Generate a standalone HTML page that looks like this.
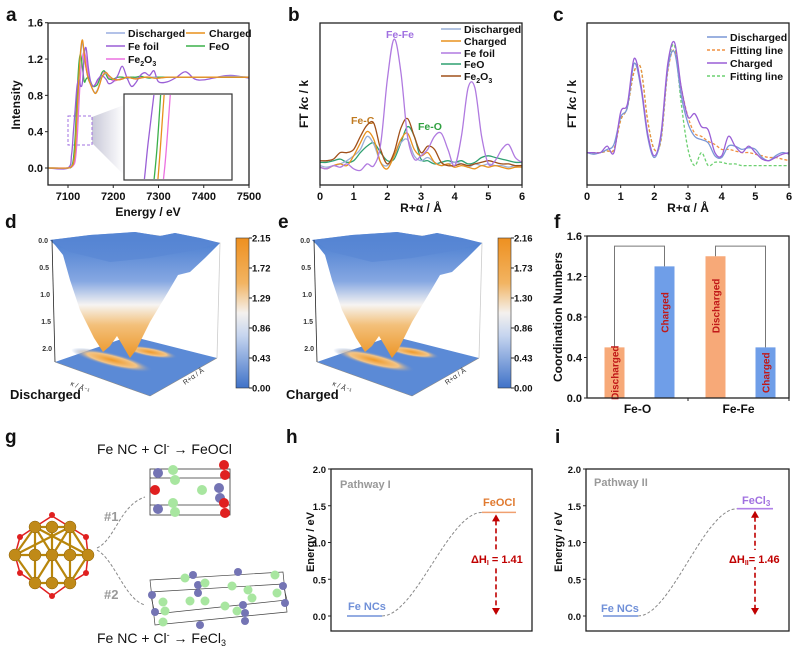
<!DOCTYPE html>
<html><head><meta charset="utf-8"><style>
html,body{margin:0;padding:0;background:#fff}
svg{display:block;font-family:"Liberation Sans",Arial,sans-serif}
</style></head><body>
<svg id="fig" width="803" height="661" viewBox="0 0 803 661" xmlns="http://www.w3.org/2000/svg">
<defs>
<linearGradient id="surfGrad" gradientUnits="userSpaceOnUse" x1="0" y1="240" x2="0" y2="358">
<stop offset="0" stop-color="#4c7fd1"/><stop offset="0.35" stop-color="#86a8e2"/><stop offset="0.55" stop-color="#f6f4f2"/><stop offset="0.72" stop-color="#f3c07a"/><stop offset="1" stop-color="#ec9526"/>
</linearGradient>
<linearGradient id="cbGrad" x1="0" y1="0" x2="0" y2="1">
<stop offset="0" stop-color="#ee9020"/><stop offset="0.3" stop-color="#f2b462"/><stop offset="0.5" stop-color="#f4f1ee"/><stop offset="0.65" stop-color="#c6d5ef"/><stop offset="1" stop-color="#3f72c8"/>
</linearGradient>
<radialGradient id="streak"><stop offset="0" stop-color="#ef9a2a"/><stop offset="0.6" stop-color="#f3c486"/><stop offset="1" stop-color="#5b8ad6" stop-opacity="0"/></radialGradient>
<linearGradient id="fan" x1="0" y1="0" x2="1" y2="0"><stop offset="0" stop-color="#c8c8d8"/><stop offset="1" stop-color="#fff"/></linearGradient>
<g id="surf">
<polygon points="55,362 130,336 217,358 150,396" fill="#5b8ad6"/>
<ellipse cx="112" cy="360" rx="42" ry="7" transform="rotate(14 112 360)" fill="url(#streak)"/>
<ellipse cx="150" cy="352" rx="28" ry="5" transform="rotate(10 150 352)" fill="url(#streak)"/>
<line x1="150" y1="396" x2="217" y2="358" stroke="#888" stroke-width="0.6"/>
<line x1="55" y1="362" x2="150" y2="396" stroke="#888" stroke-width="0.6"/>
<polyline points="52,240 135,233 220,243 217,358" fill="none" stroke="#ccc" stroke-width="0.8"/>
<polygon points="50,240 90,235 135,232 160,236 175,233 200,238 220,243 205,258 190,272 178,275 168,292 150,322 136,350 130,358 123,346 117,336 110,346 103,352 94,338 80,310 70,280 63,255 55,245" fill="url(#surfGrad)"/>
<polygon points="50,240 90,235 135,232 160,236 175,233 200,238 220,243 195,250 150,258 110,262 70,252" fill="#5a88d4" opacity="0.7"/>
<line x1="52" y1="240" x2="55" y2="362" stroke="#222" stroke-width="0.8"/>
<g font-size="7" fill="#333" font-weight="bold" text-anchor="end">
<text x="48" y="243">0.0</text><text x="49" y="270">0.5</text><text x="50" y="297">1.0</text><text x="51" y="324">1.5</text><text x="52" y="351">2.0</text>
</g>
<text x="70" y="385" font-size="7" fill="#333" transform="rotate(25 70 385)">κ / Å⁻¹</text>
<text x="185" y="385" font-size="7" fill="#333" transform="rotate(-35 185 385)">R+α / Å</text>
</g>
</defs>

<!-- panel letters -->
<g font-size="19" font-weight="bold" fill="#111">
<text x="6" y="21">a</text>
<text x="288" y="21">b</text>
<text x="553" y="21">c</text>
<text x="5" y="228">d</text>
<text x="278" y="228">e</text>
<text x="554" y="228">f</text>
<text x="5" y="443">g</text>
<text x="286" y="443">h</text>
<text x="555" y="443">i</text>
</g>

<!-- axis titles -->
<g font-size="12" font-weight="bold" fill="#111" text-anchor="middle">
<text x="20" y="105" transform="rotate(-90 20 105)">Intensity</text>
<text x="148" y="216">Energy / eV</text>
<text x="308" y="104" transform="rotate(-90 308 104)">FT <tspan font-style="italic">k</tspan>c / k</text>
<text x="421" y="212">R+α / Å</text>
<text x="576" y="104" transform="rotate(-90 576 104)">FT <tspan font-style="italic">k</tspan>c / k</text>
<text x="688" y="212">R+α / Å</text>
<text x="562" y="317" transform="rotate(-90 562 317)">Coordination Numbers</text>
<text x="314" y="542" font-size="11" transform="rotate(-90 314 542)">Energy / eV</text>
<text x="562" y="542" font-size="11" transform="rotate(-90 562 542)">Energy / eV</text>
</g>

<!-- panel a static -->
<polygon points="92,117 92,143 124,175 124,105" fill="url(#fan)"/>
<rect x="124" y="94" width="108" height="86" fill="#fff" stroke="#333" stroke-width="1.2"/>
<rect x="68" y="116" width="24" height="29" fill="none" stroke="#a070e0" stroke-width="1" stroke-dasharray="3,2"/>

<!-- legends -->
<g font-size="10.5" font-weight="bold" fill="#111">
<g>
<line x1="106" y1="33" x2="125" y2="33" stroke="#9aaee0" stroke-width="1.6"/><text x="128" y="37">Discharged</text>
<line x1="186" y1="33" x2="205" y2="33" stroke="#e8901c" stroke-width="1.6"/><text x="209" y="37">Charged</text>
<line x1="106" y1="46" x2="125" y2="46" stroke="#9a5fd6" stroke-width="1.6"/><text x="128" y="50">Fe foil</text>
<line x1="186" y1="46" x2="205" y2="46" stroke="#3bb04a" stroke-width="1.6"/><text x="209" y="50">FeO</text>
<line x1="106" y1="59" x2="125" y2="59" stroke="#ec70e0" stroke-width="1.6"/><text x="128" y="63">Fe<tspan font-size="7" dy="3">2</tspan><tspan dy="-3">O</tspan><tspan font-size="7" dy="3">3</tspan></text>
</g>
<g>
<line x1="441" y1="29" x2="461" y2="29" stroke="#9ab0d8" stroke-width="1.5"/><text x="464" y="33">Discharged</text>
<line x1="441" y1="41" x2="461" y2="41" stroke="#e8921e" stroke-width="1.5"/><text x="464" y="45">Charged</text>
<line x1="441" y1="53" x2="461" y2="53" stroke="#b07ae0" stroke-width="1.5"/><text x="464" y="57">Fe foil</text>
<line x1="441" y1="64" x2="461" y2="64" stroke="#2fa070" stroke-width="1.5"/><text x="464" y="68">FeO</text>
<line x1="441" y1="76" x2="461" y2="76" stroke="#a0501a" stroke-width="1.5"/><text x="464" y="80">Fe<tspan font-size="7" dy="3">2</tspan><tspan dy="-3">O</tspan><tspan font-size="7" dy="3">3</tspan></text>
</g>
<g>
<line x1="707" y1="37" x2="727" y2="37" stroke="#7a97d6" stroke-width="1.6"/><text x="730" y="41">Discharged</text>
<line x1="707" y1="50" x2="727" y2="50" stroke="#f09040" stroke-width="1.4" stroke-dasharray="3,2"/><text x="730" y="54">Fitting line</text>
<line x1="707" y1="63" x2="727" y2="63" stroke="#9a5fd6" stroke-width="1.6"/><text x="730" y="67">Charged</text>
<line x1="707" y1="76" x2="727" y2="76" stroke="#6cd070" stroke-width="1.4" stroke-dasharray="3,2"/><text x="730" y="80">Fitting line</text>
</g>
</g>
<g font-size="10.5" font-weight="bold">
<text x="386" y="38" fill="#a070e0">Fe-Fe</text>
<text x="351" y="124" fill="#c07a20">Fe-C</text>
<text x="418" y="130" fill="#30a040">Fe-O</text>
</g>

<!-- panels d, e -->
<use href="#surf" x="0" y="0"/>
<use href="#surf" x="262" y="0"/>
<rect x="236" y="238" width="13" height="150" fill="url(#cbGrad)" stroke="#333" stroke-width="0.6"/>
<rect x="498" y="238" width="13" height="150" fill="url(#cbGrad)" stroke="#333" stroke-width="0.6"/>
<text x="10" y="399" font-size="13" font-weight="bold" fill="#111">Discharged</text>
<text x="286" y="399" font-size="13" font-weight="bold" fill="#111">Charged</text>

<!-- panel g -->
<g>
<g stroke="#e02020" stroke-width="1.5" fill="none">
<polyline points="52,516 35,527 20,537 15,555 20,573 35,583 52,596 70,583 86,573 88,555 86,537 70,527 52,516"/>
</g>
<g stroke="#b8860b" stroke-width="2.2">
<line x1="35" y1="527" x2="70" y2="583"/><line x1="70" y1="527" x2="35" y2="583"/><line x1="15" y1="555" x2="88" y2="555"/>
<line x1="52" y1="527" x2="52" y2="583"/><line x1="35" y1="527" x2="35" y2="583"/><line x1="70" y1="527" x2="70" y2="583"/>
<line x1="35" y1="527" x2="70" y2="527"/><line x1="35" y1="583" x2="70" y2="583"/><line x1="15" y1="555" x2="35" y2="527"/><line x1="15" y1="555" x2="35" y2="583"/><line x1="88" y1="555" x2="70" y2="527"/><line x1="88" y1="555" x2="70" y2="583"/>
<line x1="35" y1="527" x2="88" y2="555"/><line x1="70" y1="527" x2="15" y2="555"/>
</g>
<g fill="#c08a18" stroke="#8a6008" stroke-width="0.5">
<circle cx="35" cy="527" r="6"/><circle cx="52" cy="527" r="6"/><circle cx="70" cy="527" r="6"/>
<circle cx="15" cy="555" r="6"/><circle cx="35" cy="555" r="6"/><circle cx="52" cy="555" r="6"/><circle cx="70" cy="555" r="6"/><circle cx="88" cy="555" r="6"/>
<circle cx="35" cy="583" r="6"/><circle cx="52" cy="583" r="6"/><circle cx="70" cy="583" r="6"/>
</g>
<g fill="#e02020"><circle cx="52" cy="515" r="3"/><circle cx="20" cy="537" r="3"/><circle cx="86" cy="537" r="3"/><circle cx="20" cy="573" r="3"/><circle cx="86" cy="573" r="3"/><circle cx="52" cy="596" r="3"/></g>
</g>
<path d="M97,548 C115,540 120,505 145,497" fill="none" stroke="#888" stroke-width="1" stroke-dasharray="3,2"/>
<path d="M97,550 C115,560 125,600 145,605" fill="none" stroke="#888" stroke-width="1" stroke-dasharray="3,2"/>
<text x="104" y="521" font-size="13" font-weight="bold" fill="#999">#1</text>
<text x="104" y="599" font-size="13" font-weight="bold" fill="#999">#2</text>
<text x="97" y="454" font-size="14" fill="#111">Fe NC + Cl<tspan font-size="9" dy="-5">-</tspan><tspan dy="5"> → FeOCl</tspan></text>
<text x="97" y="643" font-size="14" fill="#111">Fe NC + Cl<tspan font-size="9" dy="-5">-</tspan><tspan dy="5">  → FeCl</tspan><tspan font-size="9" dy="3">3</tspan></text>
<g>
<g fill="none" stroke="#333" stroke-width="0.8"><rect x="150" y="469" width="80" height="46"/><line x1="150" y1="478" x2="230" y2="478"/><line x1="150" y1="505" x2="230" y2="505"/></g>
<g fill="#7474b4"><circle cx="158" cy="473" r="5"/><circle cx="158" cy="509" r="5"/><circle cx="219" cy="488" r="5"/><circle cx="220" cy="498" r="5"/></g>
<g fill="#a8e6a0"><circle cx="173" cy="470" r="5"/><circle cx="175" cy="480" r="5"/><circle cx="173" cy="503" r="5"/><circle cx="175" cy="512" r="5"/><circle cx="202" cy="490" r="5"/></g>
<g fill="#e02020"><circle cx="224" cy="465" r="5"/><circle cx="225" cy="475" r="5"/><circle cx="155" cy="490" r="5"/><circle cx="224" cy="503" r="5"/><circle cx="225" cy="513" r="5"/></g>
</g>
<g>
<g fill="none" stroke="#444" stroke-width="0.7"><polygon points="150,580 283,572 287,612 155,625"/><polygon points="150,592 283,584 287,600 155,614"/></g>
<g fill="#7474b4"><circle cx="152" cy="595" r="4"/><circle cx="155" cy="612" r="4"/><circle cx="193" cy="575" r="4"/><circle cx="198" cy="585" r="4"/><circle cx="198" cy="593" r="4"/><circle cx="200" cy="625" r="4"/><circle cx="238" cy="572" r="4"/><circle cx="243" cy="605" r="4"/><circle cx="245" cy="613" r="4"/><circle cx="245" cy="621" r="4"/><circle cx="283" cy="586" r="4"/><circle cx="285" cy="603" r="4"/></g>
<g fill="#a8e6a0"><circle cx="163" cy="602" r="4.5"/><circle cx="165" cy="611" r="4.5"/><circle cx="185" cy="578" r="4.5"/><circle cx="190" cy="601" r="4.5"/><circle cx="205" cy="583" r="4.5"/><circle cx="205" cy="601" r="4.5"/><circle cx="225" cy="606" r="4.5"/><circle cx="232" cy="586" r="4.5"/><circle cx="237" cy="611" r="4.5"/><circle cx="248" cy="590" r="4.5"/><circle cx="252" cy="598" r="4.5"/><circle cx="275" cy="575" r="4.5"/><circle cx="277" cy="593" r="4.5"/><circle cx="163" cy="622" r="4.5"/></g>
</g>

<!-- panel h/i static text -->
<g font-size="11" font-weight="bold">
<text x="340" y="488" fill="#999">Pathway I</text>
<text x="594" y="486" fill="#999">Pathway II</text>
<text x="348" y="610" fill="#7090d8">Fe NCs</text>
<text x="601" y="612" fill="#7090d8">Fe NCs</text>
<text x="483" y="506" fill="#e07a30">FeOCl</text>
<text x="742" y="504" fill="#a070e0">FeCl<tspan font-size="8" dy="2">3</tspan></text>
</g>

<g id="plots"></g>
</svg>
<script>
// ---------- data ----------
const aX = [7055,7100,7108,7112,7116,7120,7124,7128,7132,7136,7140,7145,7150,7155,7160,7165,7170,7175,7180,7185,7190,7200,7210,7220,7230,7240,7250,7260,7270,7280,7290,7300,7320,7340,7360,7380,7400,7430,7460,7500];
const aDischarged = [0,0,0.02,0.05,0.18,0.55,0.95,1.25,1.38,1.24,1.1,0.98,0.92,0.86,0.83,0.86,0.93,1.0,1.03,1.04,1.02,0.98,0.97,0.98,1.0,0.99,0.98,0.99,1.0,1.0,1.0,0.99,1.0,1.0,1.0,1.0,1.0,1.0,1.01,1.0];
const aCharged = [0,0,0.02,0.05,0.2,0.6,1.0,1.3,1.41,1.25,1.1,0.98,0.92,0.86,0.82,0.85,0.92,1.0,1.04,1.05,1.02,0.98,0.97,0.98,1.0,0.99,0.98,0.99,1.0,1.0,0.99,0.99,1.0,1.0,1.0,1.0,1.0,1.0,1.0,1.0];
const aFeFoil = [0,0,0.15,0.4,0.65,0.9,0.98,0.9,0.95,1.25,1.32,1.1,0.95,0.9,0.92,0.97,1.0,1.02,1.0,0.97,0.93,0.95,1.02,1.12,1.0,0.9,0.94,1.02,1.05,1.02,1.07,0.95,0.95,1.0,1.06,0.98,0.97,1.0,1.02,0.99];
const aFeO = [0,0,0.02,0.1,0.35,0.8,1.15,1.25,1.1,0.95,0.98,1.0,0.95,0.9,0.9,0.92,0.98,1.05,1.07,1.02,0.98,0.98,1.0,1.0,0.99,1.0,1.0,1.01,1.0,0.99,1.0,1.0,1.0,1.0,1.0,1.0,1.0,1.0,1.0,1.0];
const aFe2O3 = [0,0,0.01,0.03,0.08,0.3,0.7,1.05,1.22,1.28,1.2,1.02,0.92,0.9,0.92,0.95,1.0,1.04,1.06,1.05,1.0,0.96,0.97,0.99,1.0,1.0,0.99,1.0,1.0,1.0,1.0,1.0,1.0,1.0,1.0,1.0,1.0,1.0,1.0,1.0];
const aXTicks = [7100,7200,7300,7400,7500];
const aYTicks = [0,0.4,0.8,1.2,1.6];
const aYTickLabels = ['0.0','0.4','0.8','1.2','1.6'];

const rX = [0,0.2,0.4,0.6,0.8,1.0,1.2,1.4,1.6,1.8,2.0,2.2,2.4,2.6,2.8,3.0,3.2,3.4,3.6,3.8,4.0,4.2,4.4,4.6,4.8,5.0,5.2,5.4,5.6,5.8,6.0];
const bDischarged = [0.12,0.11,0.12,0.13,0.15,0.18,0.22,0.3,0.25,0.14,0.12,0.18,0.26,0.28,0.18,0.15,0.17,0.14,0.12,0.13,0.14,0.13,0.11,0.13,0.12,0.13,0.12,0.12,0.11,0.12,0.12];
const bCharged = [0.11,0.1,0.12,0.13,0.12,0.18,0.26,0.33,0.28,0.14,0.1,0.18,0.28,0.32,0.22,0.18,0.2,0.14,0.12,0.13,0.11,0.12,0.11,0.1,0.12,0.11,0.12,0.11,0.1,0.11,0.11];
const bFeFoil = [0.11,0.1,0.12,0.11,0.13,0.1,0.09,0.13,0.12,0.25,0.65,0.9,0.7,0.3,0.16,0.18,0.22,0.3,0.32,0.22,0.12,0.3,0.6,0.6,0.3,0.13,0.15,0.22,0.25,0.17,0.14];
const bFeO = [0.14,0.14,0.15,0.16,0.14,0.15,0.2,0.24,0.26,0.2,0.15,0.16,0.26,0.36,0.3,0.16,0.15,0.13,0.14,0.15,0.14,0.15,0.13,0.14,0.17,0.18,0.17,0.16,0.15,0.14,0.14];
const bFe2O3 = [0.15,0.15,0.16,0.2,0.2,0.22,0.3,0.37,0.38,0.22,0.13,0.2,0.35,0.41,0.3,0.2,0.24,0.22,0.14,0.12,0.12,0.13,0.12,0.13,0.14,0.15,0.14,0.13,0.13,0.12,0.12];
const rTicks = [0,1,2,3,4,5,6];

const cDischarged = [0.2,0.19,0.2,0.22,0.25,0.42,0.48,0.75,0.6,0.3,0.17,0.3,0.72,0.82,0.55,0.38,0.3,0.28,0.26,0.18,0.17,0.24,0.24,0.22,0.23,0.22,0.17,0.15,0.18,0.2,0.19];
const cCharged = [0.2,0.2,0.2,0.24,0.2,0.45,0.5,0.78,0.62,0.32,0.18,0.32,0.75,0.88,0.6,0.42,0.44,0.36,0.34,0.2,0.18,0.3,0.24,0.2,0.24,0.2,0.16,0.15,0.17,0.19,0.2];
const cFitDis = [0.2,0.2,0.2,0.21,0.22,0.4,0.48,0.7,0.72,0.4,0.22,0.28,0.7,0.83,0.6,0.42,0.32,0.3,0.27,0.25,0.22,0.22,0.21,0.2,0.2,0.19,0.18,0.17,0.17,0.16,0.15];
const cFitChg = [0.2,0.2,0.2,0.21,0.22,0.4,0.48,0.7,0.72,0.4,0.22,0.28,0.72,0.86,0.5,0.22,0.12,0.2,0.12,0.14,0.14,0.13,0.13,0.12,0.12,0.12,0.12,0.12,0.12,0.12,0.12];

const dColorTicks = ['0.00','0.43','0.86','1.29','1.72','2.15'];
const eColorTicks = ['0.00','0.43','0.86','1.30','1.73','2.16'];

const fCategories = ['Fe-O','Fe-Fe'];
const fDischarged = [0.5,1.4];
const fCharged = [1.3,0.5];
const fYTicks = [0,0.4,0.8,1.2,1.6];
const fYTickLabels = ['0.0','0.4','0.8','1.2','1.6'];

const eYTicks = [0,0.5,1.0,1.5,2.0];
const eYTickLabels = ['0.0','0.5','1.0','1.5','2.0'];
const hLevels = [0,1.41];
const iLevels = [0,1.46];

// ---------- helpers ----------
const NS = 'http://www.w3.org/2000/svg';
const root = document.getElementById('plots');
function mk(tag, attrs, parent){ const e=document.createElementNS(NS,tag); for(const k in attrs) e.setAttribute(k,attrs[k]); (parent||root).appendChild(e); return e; }
function tx(x,y,s,attrs,parent){ const e=mk('text',Object.assign({x:x,y:y},attrs||{}),parent); e.textContent=s; return e; }
function smooth(pts){
  let d='M'+pts[0][0].toFixed(1)+','+pts[0][1].toFixed(1);
  for(let i=0;i<pts.length-1;i++){
    const p0=pts[i-1]||pts[i], p1=pts[i], p2=pts[i+1], p3=pts[i+2]||p2;
    const c1x=p1[0]+(p2[0]-p0[0])/6, c1y=p1[1]+(p2[1]-p0[1])/6;
    const c2x=p2[0]-(p3[0]-p1[0])/6, c2y=p2[1]-(p3[1]-p1[1])/6;
    d+=' C'+c1x.toFixed(1)+','+c1y.toFixed(1)+' '+c2x.toFixed(1)+','+c2y.toFixed(1)+' '+p2[0].toFixed(1)+','+p2[1].toFixed(1);
  }
  return d;
}
function frame(x,y,w,h,name){
  const r=mk('rect',{x:x,y:y,width:w,height:h,fill:'none',stroke:'#222','stroke-width':1.3});
  
  
}
function xTicks(vals,labels,sx,y0,name){
  vals.forEach((v,i)=>{
    const l=mk('line',{x1:sx(v),x2:sx(v),y1:y0,y2:y0+3,stroke:'#222','stroke-width':1});
    
    
    const t=tx(sx(v),y0+15,labels[i],{'font-size':11,'font-weight':'bold','text-anchor':'middle',fill:'#111'});
    
    
  });
}
function yTicks(vals,labels,sy,x0,name,fs){
  vals.forEach((v,i)=>{
    const l=mk('line',{x1:x0-3,x2:x0,y1:sy(v),y2:sy(v),stroke:'#222','stroke-width':1});
    
    
    const t=tx(x0-5,sy(v)+4,labels[i],{'font-size':fs||11,'font-weight':'bold','text-anchor':'end',fill:'#111'});
    
    
  });
}
function series(xs,ys,sx,sy,color,name,dash,parent,w){
  const p=mk('path',{d:smooth(xs.map((x,i)=>[sx(x),sy(ys[i])])),fill:'none',stroke:color,'stroke-width':w||1.3,'stroke-dasharray':dash||'none'},parent);
  
  
  return p;
}

// ---------- panel a ----------
const xa=v=>68+(v-7100)*0.4525, ya=v=>168-v*90.8;
const clipA=mk('clipPath',{id:'clipA'}); mk('rect',{x:48,y:23,width:201,height:162},clipA);
const gA=mk('g',{'clip-path':'url(#clipA)'});
series(aX,aFe2O3,xa,ya,'#ec70e0','a-line-fe2o3',null,gA);
series(aX,aFeO,xa,ya,'#3bb04a','a-line-feo',null,gA);
series(aX,aFeFoil,xa,ya,'#9a5fd6','a-line-fe-foil',null,gA);
series(aX,aDischarged,xa,ya,'#9aaee0','a-line-discharged',null,gA);
series(aX,aCharged,xa,ya,'#e8901c','a-line-charged',null,gA);
frame(48,23,201,162,'a-plot-frame');
xTicks(aXTicks,aXTicks.map(String),xa,185,'a-x');
yTicks(aYTicks,aYTickLabels,ya,48,'a-y');
// inset: zoom of region x 7100..7153, y 0.25..0.57
const xi=v=>124+(v-7100)/53*108, yi=v=>180-(v-0.25)/0.32*86;
const clipI=mk('clipPath',{id:'clipI'}); mk('rect',{x:125,y:95,width:106,height:84},clipI);
const gI=mk('g',{'clip-path':'url(#clipI)'});
series(aX,aFeFoil,xi,yi,'#9a5fd6','inset-line-fe-foil',null,gI);
series(aX,aFeO,xi,yi,'#3bb04a','inset-line-feo',null,gI);
series(aX,aCharged,xi,yi,'#e8901c','inset-line-charged',null,gI);
series(aX,aFe2O3,xi,yi,'#ec70e0','inset-line-fe2o3',null,gI);

// ---------- panel b ----------
const xb=v=>320+v*33.67, yb=v=>185-v*162;
series(rX,bFeO,xb,yb,'#2fa070','b-line-feo');
series(rX,bDischarged,xb,yb,'#9ab0d8','b-line-discharged');
series(rX,bCharged,xb,yb,'#e8921e','b-line-charged');
series(rX,bFe2O3,xb,yb,'#a0501a','b-line-fe2o3');
series(rX,bFeFoil,xb,yb,'#b07ae0','b-line-fe-foil');
frame(320,23,202,162,'b-plot-frame');
xTicks(rTicks,rTicks.map(String),xb,185,'b-x');

// ---------- panel c ----------
const xc=v=>587+v*33.67;
series(rX,cFitChg,xc,yb,'#6cd070','c-line-fit-charged','3,2');
series(rX,cFitDis,xc,yb,'#f09040','c-line-fit-discharged','3,2');
series(rX,cDischarged,xc,yb,'#7a97d6','c-line-discharged');
series(rX,cCharged,xc,yb,'#9a5fd6','c-line-charged');
frame(587,23,202,162,'c-plot-frame');
xTicks(rTicks,rTicks.map(String),xc,185,'c-x');

// ---------- colorbars d/e ----------
[[dColorTicks,236,'d'],[eColorTicks,498,'e']].forEach(([ticks,x0,nm])=>{
  ticks.forEach((s,i)=>{
    const y=388-i*150/(ticks.length-1);
    const l=mk('line',{x1:x0+13,x2:x0+16,y1:y,y2:y,stroke:'#222'});
    
    
    const t=tx(x0+16,y+3.5,s,{'font-size':9.5,'font-weight':'bold',fill:'#111'});
    
    
  });
});

// ---------- panel f ----------
const yf=v=>398-v*101.25;
const fGroupW=101;
fCategories.forEach((c,i)=>{
  const cx=587+(i+0.5)*fGroupW;
  const xd=cx-23, xch=cx+27;
  const b1=mk('rect',{x:xd-10,y:yf(fDischarged[i]),width:20,height:398-yf(fDischarged[i]),fill:'#f7a978'});
  
  
  const b2=mk('rect',{x:xch-10,y:yf(fCharged[i]),width:20,height:398-yf(fCharged[i]),fill:'#6f9ee8'});
  
  
  const top=yf(1.5);
  const br=mk('polyline',{points:xd+','+yf(fDischarged[i])+' '+xd+','+top+' '+xch+','+top+' '+xch+','+yf(fCharged[i]),fill:'none',stroke:'#777','stroke-width':1});
  
  
  [['Discharged',xd,fDischarged[i]],['Charged',xch,fCharged[i]]].forEach(([s,x,v])=>{
    const h=398-yf(v);
    const ty = v<0.8 ? 398-h/2 : yf(v)+h*0.35;
    const t=tx(x+4,ty,s,{'font-size':10,'font-weight':'bold',fill:'#c01818','text-anchor':'middle',transform:'rotate(-90 '+(x+4)+' '+ty+')'});
    
    
  });
  const tl=mk('line',{x1:587+(i+1)*fGroupW,x2:587+(i+1)*fGroupW,y1:398,y2:401,stroke:'#222'});
  
  
  const ct=tx(cx,413,c,{'font-size':12,'font-weight':'bold','text-anchor':'middle',fill:'#111'});
  
  
});
frame(587,236,202,162,'f-plot-frame');
yTicks(fYTicks,fYTickLabels,yf,587,'f-y');

// ---------- panels h, i ----------
const ye=v=>616-v*73.5;
function energyPanel(levels,x0,x1,x2,x3,arrowX,name,lvlColor,dhMain,dhSub,dhVal,labelX){
  const l0=mk('line',{x1:x0,x2:x1,y1:ye(levels[0]),y2:ye(levels[0]),stroke:'#7090d8','stroke-width':1.6});
  
  
  const pts=[];
  for(let k=0;k<=20;k++){ const t=k/20; const s=t*t*(3-2*t); pts.push([x1+(x2-x1)*t, ye(levels[0]+(levels[1]-levels[0])*s)]); }
  const cv=mk('path',{d:smooth(pts),fill:'none',stroke:'#888','stroke-width':1,'stroke-dasharray':'3,2'});
  
  
  const l1=mk('line',{x1:x2,x2:x3,y1:ye(levels[1]),y2:ye(levels[1]),stroke:lvlColor,'stroke-width':1.6});
  
  
  const ar=mk('line',{x1:arrowX,x2:arrowX,y1:ye(levels[1])+8,y2:ye(levels[0])-6,stroke:'#c00000','stroke-width':1.6,'stroke-dasharray':'5,3'});
  
  
  const h1=mk('polygon',{points:(arrowX-4)+','+(ye(levels[1])+9)+' '+(arrowX+4)+','+(ye(levels[1])+9)+' '+arrowX+','+(ye(levels[1])+2),fill:'#c00000'});
  
  
  const h2=mk('polygon',{points:(arrowX-4)+','+(ye(levels[0])-8)+' '+(arrowX+4)+','+(ye(levels[0])-8)+' '+arrowX+','+(ye(levels[0])-1),fill:'#c00000'});
  
  
  const bg=mk('rect',{x:labelX-3,y:550,width:56,height:17,fill:'#fff'});
  
  
  const t=tx(labelX,563,'',{'font-size':11,'font-weight':'bold',fill:'#c00000'});
  
  
  const s1=document.createElementNS(NS,'tspan'); s1.textContent=dhMain; t.appendChild(s1);
  const s2=document.createElementNS(NS,'tspan'); s2.setAttribute('font-size','7'); s2.setAttribute('dy','2'); s2.textContent=dhSub; t.appendChild(s2);
  const s3=document.createElementNS(NS,'tspan'); s3.setAttribute('dy','-2'); s3.textContent=dhVal; t.appendChild(s3);
}
frame(331,469,201,162,'h-plot-frame');
frame(586,469,203,162,'i-plot-frame');
energyPanel(hLevels,347,382,482,516,496,'h','#f0a070','ΔH','I',' = '+hLevels[1].toFixed(2),471);
energyPanel(iLevels,603,638,737,773,755,'i','#b080e8','ΔH','II','= '+iLevels[1].toFixed(2),729);
yTicks(eYTicks,eYTickLabels,ye,331,'h-y',9.5);
yTicks(eYTicks,eYTickLabels,ye,586,'i-y',9.5);
</script>
</body></html>
